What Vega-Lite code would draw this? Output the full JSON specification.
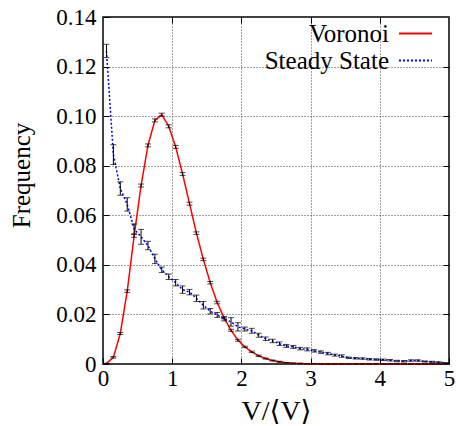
{
  "$schema": "https://vega.github.io/schema/vega-lite/v6.json",
  "width": 346,
  "height": 347,
  "autosize": {"type": "none"},
  "padding": {"left": 103, "top": 17, "right": 7, "bottom": 62},
  "background": "white",
  "config": {
    "view": {"stroke": "black", "strokeWidth": 1.5},
    "font": "Liberation Serif, DejaVu Serif, Times New Roman, serif",
    "axis": {
      "labelFont": "Liberation Serif, DejaVu Serif, Times New Roman, serif", "titleFont": "Liberation Serif, DejaVu Serif, Times New Roman, serif",
      "labelColor": "black", "titleColor": "black", "titleFontWeight": "normal",
      "domain": false, "gridColor": "#444444", "gridDash": [1, 2], "gridWidth": 1, "gridOpacity": 1,
      "tickColor": "black", "labelFontSize": 23
    }
  },
  "data": {"values": [
    {"series": "Voronoi", "v": 0.05, "f": 0.0002, "lo": 0.0001, "hi": 0.0003},
    {"series": "Voronoi", "v": 0.15, "f": 0.0027, "lo": 0.0024, "hi": 0.0030},
    {"series": "Voronoi", "v": 0.25, "f": 0.0123, "lo": 0.0119, "hi": 0.0127},
    {"series": "Voronoi", "v": 0.35, "f": 0.0294, "lo": 0.0289, "hi": 0.0299},
    {"series": "Voronoi", "v": 0.45, "f": 0.0517, "lo": 0.0511, "hi": 0.0523},
    {"series": "Voronoi", "v": 0.55, "f": 0.0720, "lo": 0.0714, "hi": 0.0726},
    {"series": "Voronoi", "v": 0.65, "f": 0.0882, "lo": 0.0876, "hi": 0.0888},
    {"series": "Voronoi", "v": 0.75, "f": 0.0983, "lo": 0.0977, "hi": 0.0989},
    {"series": "Voronoi", "v": 0.85, "f": 0.1006, "lo": 0.1000, "hi": 0.1012},
    {"series": "Voronoi", "v": 0.95, "f": 0.0959, "lo": 0.0953, "hi": 0.0965},
    {"series": "Voronoi", "v": 1.05, "f": 0.0876, "lo": 0.0870, "hi": 0.0882},
    {"series": "Voronoi", "v": 1.15, "f": 0.0767, "lo": 0.0761, "hi": 0.0773},
    {"series": "Voronoi", "v": 1.25, "f": 0.0647, "lo": 0.0641, "hi": 0.0653},
    {"series": "Voronoi", "v": 1.35, "f": 0.0528, "lo": 0.0523, "hi": 0.0533},
    {"series": "Voronoi", "v": 1.45, "f": 0.0422, "lo": 0.0417, "hi": 0.0427},
    {"series": "Voronoi", "v": 1.55, "f": 0.0328, "lo": 0.0323, "hi": 0.0333},
    {"series": "Voronoi", "v": 1.65, "f": 0.0248, "lo": 0.0243, "hi": 0.0253},
    {"series": "Voronoi", "v": 1.75, "f": 0.0186, "lo": 0.0182, "hi": 0.0190},
    {"series": "Voronoi", "v": 1.85, "f": 0.0136, "lo": 0.0132, "hi": 0.0140},
    {"series": "Voronoi", "v": 1.95, "f": 0.0096, "lo": 0.0092, "hi": 0.0100},
    {"series": "Voronoi", "v": 2.05, "f": 0.0069, "lo": 0.0066, "hi": 0.0072},
    {"series": "Voronoi", "v": 2.15, "f": 0.0049, "lo": 0.0046, "hi": 0.0052},
    {"series": "Voronoi", "v": 2.25, "f": 0.0033, "lo": 0.0030, "hi": 0.0036},
    {"series": "Voronoi", "v": 2.35, "f": 0.0022, "lo": 0.0020, "hi": 0.0024},
    {"series": "Voronoi", "v": 2.45, "f": 0.0014, "lo": 0.0012, "hi": 0.0016},
    {"series": "Voronoi", "v": 2.55, "f": 0.0009, "lo": 0.0007, "hi": 0.0011},
    {"series": "Voronoi", "v": 2.65, "f": 0.0005, "lo": 0.0004, "hi": 0.0006},
    {"series": "Voronoi", "v": 2.75, "f": 0.0003, "lo": 0.0002, "hi": 0.0004},
    {"series": "Voronoi", "v": 2.85, "f": 0.0002, "lo": 0.0001, "hi": 0.0003},
    {"series": "Voronoi", "v": 2.95, "f": 0.0001, "lo": 0.0001, "hi": 0.0001},
    {"series": "Voronoi", "v": 3.05, "f": 0.0001, "lo": 0.0001, "hi": 0.0001},
    {"series": "Voronoi", "v": 3.15, "f": 0, "lo": 0, "hi": 0},
    {"series": "Voronoi", "v": 3.25, "f": 0, "lo": 0, "hi": 0},
    {"series": "Voronoi", "v": 3.35, "f": 0, "lo": 0, "hi": 0},
    {"series": "Voronoi", "v": 3.45, "f": 0, "lo": 0, "hi": 0},
    {"series": "Voronoi", "v": 3.55, "f": 0, "lo": 0, "hi": 0},
    {"series": "Voronoi", "v": 3.65, "f": 0, "lo": 0, "hi": 0},
    {"series": "Voronoi", "v": 3.75, "f": 0, "lo": 0, "hi": 0},
    {"series": "Voronoi", "v": 3.85, "f": 0, "lo": 0, "hi": 0},
    {"series": "Voronoi", "v": 3.95, "f": 0, "lo": 0, "hi": 0},
    {"series": "Voronoi", "v": 4.05, "f": 0, "lo": 0, "hi": 0},
    {"series": "Voronoi", "v": 4.15, "f": 0, "lo": 0, "hi": 0},
    {"series": "Voronoi", "v": 4.25, "f": 0, "lo": 0, "hi": 0},
    {"series": "Voronoi", "v": 4.35, "f": 0, "lo": 0, "hi": 0},
    {"series": "Voronoi", "v": 4.45, "f": 0, "lo": 0, "hi": 0},
    {"series": "Voronoi", "v": 4.55, "f": 0, "lo": 0, "hi": 0},
    {"series": "Voronoi", "v": 4.65, "f": 0, "lo": 0, "hi": 0},
    {"series": "Voronoi", "v": 4.75, "f": 0, "lo": 0, "hi": 0},
    {"series": "Voronoi", "v": 4.85, "f": 0, "lo": 0, "hi": 0},
    {"series": "Voronoi", "v": 4.95, "f": 0, "lo": 0, "hi": 0},
    {"series": "Steady State", "v": 0.05, "f": 0.1263, "lo": 0.1236, "hi": 0.1290},
    {"series": "Steady State", "v": 0.15, "f": 0.0845, "lo": 0.0805, "hi": 0.0885},
    {"series": "Steady State", "v": 0.25, "f": 0.0708, "lo": 0.0681, "hi": 0.0735},
    {"series": "Steady State", "v": 0.35, "f": 0.0644, "lo": 0.0617, "hi": 0.0671},
    {"series": "Steady State", "v": 0.45, "f": 0.0545, "lo": 0.0525, "hi": 0.0565},
    {"series": "Steady State", "v": 0.55, "f": 0.0513, "lo": 0.0483, "hi": 0.0543},
    {"series": "Steady State", "v": 0.65, "f": 0.0478, "lo": 0.0461, "hi": 0.0495},
    {"series": "Steady State", "v": 0.75, "f": 0.0424, "lo": 0.0405, "hi": 0.0443},
    {"series": "Steady State", "v": 0.85, "f": 0.0380, "lo": 0.0369, "hi": 0.0391},
    {"series": "Steady State", "v": 0.95, "f": 0.0352, "lo": 0.0341, "hi": 0.0363},
    {"series": "Steady State", "v": 1.05, "f": 0.0328, "lo": 0.0315, "hi": 0.0341},
    {"series": "Steady State", "v": 1.15, "f": 0.0300, "lo": 0.0285, "hi": 0.0315},
    {"series": "Steady State", "v": 1.25, "f": 0.0290, "lo": 0.0279, "hi": 0.0301},
    {"series": "Steady State", "v": 1.35, "f": 0.0265, "lo": 0.0252, "hi": 0.0278},
    {"series": "Steady State", "v": 1.45, "f": 0.0237, "lo": 0.0222, "hi": 0.0252},
    {"series": "Steady State", "v": 1.55, "f": 0.0213, "lo": 0.0202, "hi": 0.0224},
    {"series": "Steady State", "v": 1.65, "f": 0.0198, "lo": 0.0188, "hi": 0.0208},
    {"series": "Steady State", "v": 1.75, "f": 0.0182, "lo": 0.0174, "hi": 0.0190},
    {"series": "Steady State", "v": 1.85, "f": 0.0170, "lo": 0.0153, "hi": 0.0187},
    {"series": "Steady State", "v": 1.95, "f": 0.0150, "lo": 0.0133, "hi": 0.0167},
    {"series": "Steady State", "v": 2.05, "f": 0.0141, "lo": 0.0133, "hi": 0.0149},
    {"series": "Steady State", "v": 2.15, "f": 0.0134, "lo": 0.0124, "hi": 0.0144},
    {"series": "Steady State", "v": 2.25, "f": 0.0116, "lo": 0.0108, "hi": 0.0124},
    {"series": "Steady State", "v": 2.35, "f": 0.0102, "lo": 0.0095, "hi": 0.0109},
    {"series": "Steady State", "v": 2.45, "f": 0.0093, "lo": 0.0086, "hi": 0.0100},
    {"series": "Steady State", "v": 2.55, "f": 0.0082, "lo": 0.0075, "hi": 0.0089},
    {"series": "Steady State", "v": 2.65, "f": 0.0073, "lo": 0.0067, "hi": 0.0079},
    {"series": "Steady State", "v": 2.75, "f": 0.0069, "lo": 0.0063, "hi": 0.0075},
    {"series": "Steady State", "v": 2.85, "f": 0.0062, "lo": 0.0057, "hi": 0.0067},
    {"series": "Steady State", "v": 2.95, "f": 0.0059, "lo": 0.0053, "hi": 0.0065},
    {"series": "Steady State", "v": 3.05, "f": 0.0053, "lo": 0.0048, "hi": 0.0058},
    {"series": "Steady State", "v": 3.15, "f": 0.0048, "lo": 0.0043, "hi": 0.0053},
    {"series": "Steady State", "v": 3.25, "f": 0.0042, "lo": 0.0037, "hi": 0.0047},
    {"series": "Steady State", "v": 3.35, "f": 0.0036, "lo": 0.0032, "hi": 0.0040},
    {"series": "Steady State", "v": 3.45, "f": 0.0032, "lo": 0.0027, "hi": 0.0037},
    {"series": "Steady State", "v": 3.55, "f": 0.0025, "lo": 0.0022, "hi": 0.0028},
    {"series": "Steady State", "v": 3.65, "f": 0.0023, "lo": 0.0020, "hi": 0.0026},
    {"series": "Steady State", "v": 3.75, "f": 0.0022, "lo": 0.0019, "hi": 0.0025},
    {"series": "Steady State", "v": 3.85, "f": 0.0019, "lo": 0.0016, "hi": 0.0022},
    {"series": "Steady State", "v": 3.95, "f": 0.0018, "lo": 0.0015, "hi": 0.0021},
    {"series": "Steady State", "v": 4.05, "f": 0.0017, "lo": 0.0014, "hi": 0.0020},
    {"series": "Steady State", "v": 4.15, "f": 0.0015, "lo": 0.0012, "hi": 0.0018},
    {"series": "Steady State", "v": 4.25, "f": 0.0012, "lo": 0.0009, "hi": 0.0015},
    {"series": "Steady State", "v": 4.35, "f": 0.0011, "lo": 0.0008, "hi": 0.0014},
    {"series": "Steady State", "v": 4.45, "f": 0.0014, "lo": 0.0011, "hi": 0.0017},
    {"series": "Steady State", "v": 4.55, "f": 0.0014, "lo": 0.0011, "hi": 0.0017},
    {"series": "Steady State", "v": 4.65, "f": 0.0010, "lo": 0.0008, "hi": 0.0012},
    {"series": "Steady State", "v": 4.75, "f": 0.0009, "lo": 0.0007, "hi": 0.0011},
    {"series": "Steady State", "v": 4.85, "f": 0.0007, "lo": 0.0005, "hi": 0.0009},
    {"series": "Steady State", "v": 4.95, "f": 0.0004, "lo": 0.0002, "hi": 0.0006}
  ]},
  "layer": [
    {
      "mark": {"type": "line", "strokeWidth": 1.5},
      "encoding": {
        "x": {"field": "v", "type": "quantitative", "scale": {"domain": [0, 5], "nice": false},
          "axis": {"orient": "bottom", "values": [0, 1, 2, 3, 4, 5], "format": "d", "tickSize": -6, "labelPadding": 9,
            "title": "V/⟨V⟩", "titleFontSize": 28, "titleY": 47, "titleBaseline": "middle", "grid": true, "labelFlush": false}},
        "y": {"field": "f", "type": "quantitative", "scale": {"domain": [0, 0.14], "nice": false},
          "axis": {"orient": "left", "values": [0, 0.02, 0.04, 0.06, 0.08, 0.1, 0.12, 0.14],
            "labelExpr": "datum.value == 0 ? '0' : format(datum.value, '.2f')", "tickSize": -6, "labelPadding": 13,
            "title": "Frequency", "titleFontSize": 25, "titleAngle": -90, "titleX": -82, "titleY": 158,
            "titleBaseline": "middle", "titleAlign": "center", "grid": true, "labelFlush": false}},
        "color": {"field": "series", "type": "nominal",
          "scale": {"domain": ["Voronoi", "Steady State"], "range": ["#ff0000", "#0000ff"]},
          "legend": {"title": null, "orient": "none", "legendX": 300, "legendY": 4, "symbolType": "M-2,0L2,0", "symbolSize": 272,
            "symbolStrokeWidth": 2, "labelFont": "Liberation Serif, DejaVu Serif, Times New Roman, serif", "labelFontSize": 25, "labelColor": "black",
            "labelAlign": "right", "labelOffset": -39, "padding": 0, "rowPadding": 1, "labelLimit": 400}},
        "strokeDash": {"field": "series", "type": "nominal",
          "scale": {"domain": ["Voronoi", "Steady State"], "range": [[1, 0], [2, 2]]},
          "legend": {"title": null, "orient": "none", "legendX": 300, "legendY": 4, "symbolType": "M-2,0L2,0", "symbolSize": 272,
            "symbolStrokeWidth": 2, "labelFont": "Liberation Serif, DejaVu Serif, Times New Roman, serif", "labelFontSize": 25, "labelColor": "black",
            "labelAlign": "right", "labelOffset": -39, "padding": 0, "rowPadding": 1, "labelLimit": 400}}
      }
    },
    {
      "mark": {"type": "errorbar", "ticks": {"size": 6}, "color": "black", "thickness": 1},
      "encoding": {
        "x": {"field": "v", "type": "quantitative",
          "axis": {"orient": "top", "values": [1, 2, 3, 4], "labels": false, "grid": false, "tickSize": -6, "title": null}},
        "y": {"field": "lo", "type": "quantitative",
          "axis": {"orient": "right", "values": [0.02, 0.04, 0.06, 0.08, 0.1, 0.12], "labels": false, "grid": false, "tickSize": -6, "title": null}},
        "y2": {"field": "hi"}
      }
    }
  ],
  "resolve": {"axis": {"x": "independent", "y": "independent"}}
}
